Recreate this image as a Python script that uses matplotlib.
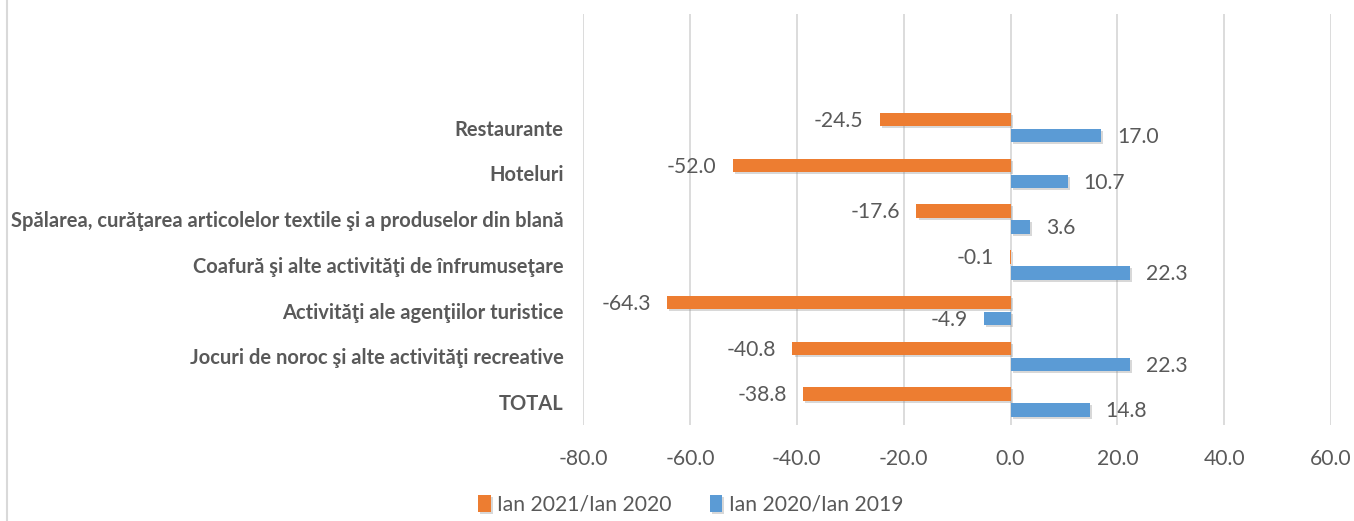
import numpy as np
import matplotlib
matplotlib.use('Agg')
import matplotlib.pyplot as plt
import matplotlib.patheffects as pe
from matplotlib.lines import Line2D

plt.rcParams['font.family'] = ['Lato', 'DejaVu Sans']

# ============================================================
# Date
# ============================================================
categorii = ['TOTAL',
             'Jocuri de noroc şi alte activităţi recreative',
             'Activităţi ale agenţiilor turistice',
             'Coafură şi alte activităţi de înfrumuseţare',
             'Spălarea, curăţarea articolelor textile şi a produselor din blană',
             'Hoteluri',
             'Restaurante']
ian21_ian20 = [-38.8, -40.8, -64.3, -0.1, -17.6, -52.0, -24.5]
ian20_ian19 = [14.8, 22.3, -4.9, 22.3, 3.6, 10.7, 17.0]
serii = ['Ian 2021/Ian 2020', 'Ian 2020/Ian 2019']
x_ticks = [-80, -60, -40, -20, 0, 20, 40, 60]

C_ORANGE = '#ED7D31'
C_BLUE = '#5B9BD5'
C_TEXT = '#595959'
C_GRID = '#D9D9D9'

fig = plt.figure(figsize=(13.54, 5.21), dpi=100)
ax = fig.add_axes([0.4306, 0.1843, 0.5525, 0.7888])

y = np.arange(len(categorii))
h = 0.295
off = 0.175
umbra = [pe.SimplePatchShadow(offset=(1.5, -1.5), shadow_rgbFace='#808080', alpha=0.3), pe.Normal()]

b1 = ax.barh(y + off, ian21_ian20, height=h, color=C_ORANGE, label=serii[0], zorder=3)
b2 = ax.barh(y - off, ian20_ian19, height=h, color=C_BLUE, label=serii[1], zorder=3)
for b in list(b1) + list(b2):
    b.set_path_effects(umbra)

# etichete de date
for bars, vals in ((b1, ian21_ian20), (b2, ian20_ian19)):
    for bar, v in zip(bars, vals):
        yc = bar.get_y() + bar.get_height() / 2
        dx = 11.5 if v > 0 else -11.5
        ax.annotate(f'{v:.1f}', xy=(v, yc), xytext=(dx, -1), textcoords='offset points',
                    ha='left' if v > 0 else 'right', va='center',
                    fontsize=15.2, color=C_TEXT)

ax.set_xlim(-80, 60)
ax.set_ylim(-0.5, 8.48)
ax.set_xticks(x_ticks)
ax.set_xticklabels([f'{t:.1f}' for t in x_ticks], fontsize=15.2, color=C_TEXT)
ax.set_yticks(y)
ax.set_yticklabels(categorii, fontsize=14.5, fontweight='bold', color=C_TEXT)
ax.tick_params(axis='x', length=0, pad=17)
ax.tick_params(axis='y', length=0, pad=14)
ax.grid(axis='x', color=C_GRID, linewidth=1.3, zorder=0)
ax.set_axisbelow(True)
for s in ax.spines.values():
    s.set_visible(False)

# chenar stanga
fig.add_artist(Line2D([7 / 1354, 7 / 1354], [0, 1], color=C_GRID, linewidth=1.5,
                      transform=fig.transFigure))

fig.legend(handles=[b1, b2], labels=serii, loc='center', bbox_to_anchor=(0.51, 0.031),
           ncol=2, frameon=False, fontsize=15.2, labelcolor=C_TEXT,
           handlelength=0.6, handleheight=0.9, handletextpad=0.3, columnspacing=1.8)

plt.savefig('out.png', dpi=100)
